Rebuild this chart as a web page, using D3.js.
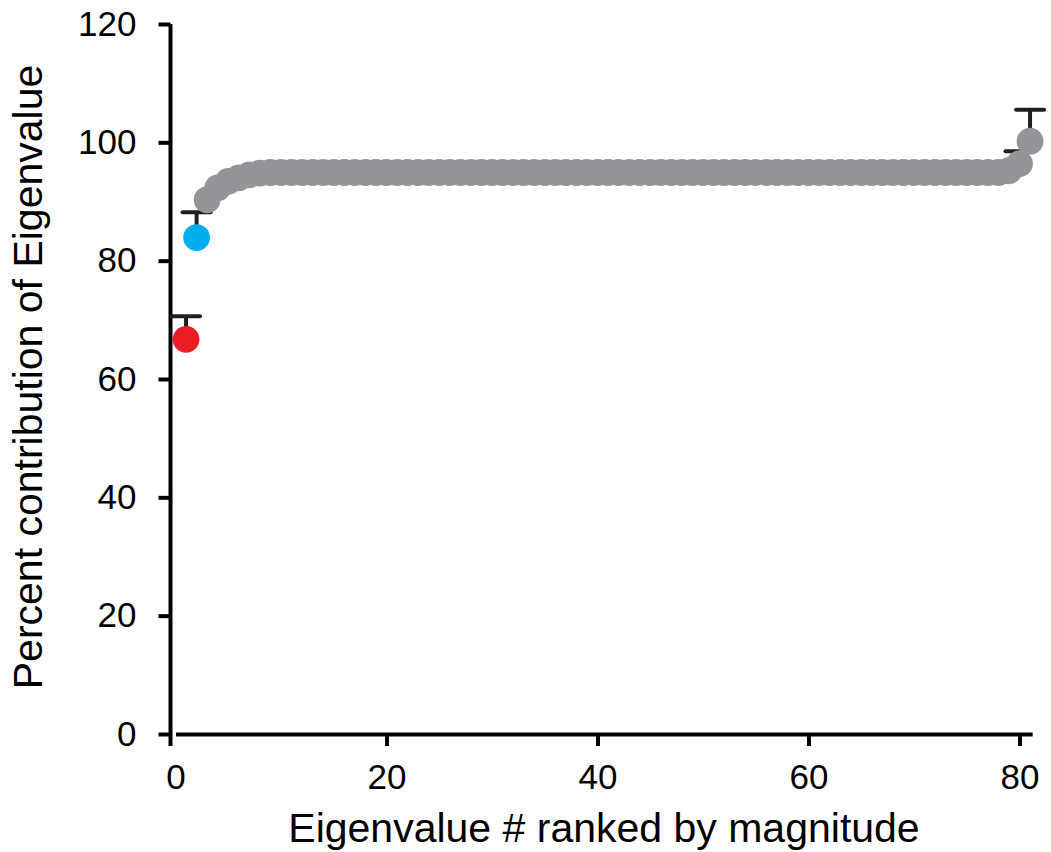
<!DOCTYPE html>
<html>
<head>
<meta charset="utf-8">
<script src="https://cdn.jsdelivr.net/npm/d3@7"></script>
<style>
  html, body { margin: 0; padding: 0; background: #ffffff; }
  svg { display: block; }
  text { font-family: "Liberation Sans", Arial, sans-serif; fill: #000; }
</style>
</head>
<body>
<svg id="chart" width="1051" height="852"></svg>
<script>
// Percent contribution of each eigenvalue, ranked 1..81
const values = [
  66.7, 83.9, 90.3, 92.3, 93.4, 94.0, 94.5, 94.8, 94.9, 94.9,
  94.9, 94.9, 94.9, 94.9, 94.9, 94.9, 94.9, 94.9, 94.9, 94.9,
  94.9, 94.9, 94.9, 94.9, 94.9, 94.9, 94.9, 94.9, 94.9, 94.9,
  94.9, 94.9, 94.9, 94.9, 94.9, 94.9, 94.9, 94.9, 94.9, 94.9,
  94.9, 94.9, 94.9, 94.9, 94.9, 94.9, 94.9, 94.9, 94.9, 94.9,
  94.9, 94.9, 94.9, 94.9, 94.9, 94.9, 94.9, 94.9, 94.9, 94.9,
  94.9, 94.9, 94.9, 94.9, 94.9, 94.9, 94.9, 94.9, 94.9, 94.9,
  94.9, 94.9, 94.9, 94.9, 94.9, 94.9, 94.9, 94.9, 95.2, 96.4,
  100.2
];
// Upper error (same units); 0 where the bar is hidden by the marker
const errors = [
  3.9, 4.3, 0, 0, 0, 0, 0, 0, 0, 0,
  0, 0, 0, 0, 0, 0, 0, 0, 0, 0,
  0, 0, 0, 0, 0, 0, 0, 0, 0, 0,
  0, 0, 0, 0, 0, 0, 0, 0, 0, 0,
  0, 0, 0, 0, 0, 0, 0, 0, 0, 0,
  0, 0, 0, 0, 0, 0, 0, 0, 0, 0,
  0, 0, 0, 0, 0, 0, 0, 0, 0, 0,
  0, 0, 0, 0, 0, 0, 0, 0, 0, 2.1,
  5.3
];
const xTicks = [0, 20, 40, 60, 80];
const yTicks = [0, 20, 40, 60, 80, 100, 120];
const xTitle = "Eigenvalue # ranked by magnitude";
const yTitle = "Percent contribution of Eigenvalue";

const RED = "#ed1c24", BLUE = "#00aeef", GRAY = "#939598", INK = "#231f20";

const points = values.map((v, i) => ({ rank: i + 1, value: v, err: errors[i] }));

const svg = d3.select("#chart");

const x = d3.scaleLinear().domain([0, 81.2]).range([175.5, 175.5 + 81.2 * 10.55]);
const y = d3.scaleLinear().domain([0, 120]).range([734, 24]);

const axisStroke = 4;

// x axis
const gx = svg.append("g").attr("transform", `translate(0,${y(0)})`)
  .call(d3.axisBottom(x).tickValues(xTicks).tickSize(12).tickSizeOuter(0).tickPadding(18));
gx.select(".domain").attr("stroke", "#000").attr("stroke-width", axisStroke);
gx.selectAll(".tick line").attr("stroke", "#000").attr("stroke-width", axisStroke)
  .filter(d => d === 0).remove();
gx.selectAll(".tick text").attr("font-size", 35).attr("font-family", "Liberation Sans, Arial, sans-serif").attr("fill", "#000");

// y axis, set slightly left of x = 0 and running down past the x axis
const yAxisX = 170.5;
const gy = svg.append("g").attr("transform", `translate(${yAxisX},0)`)
  .call(d3.axisLeft(y).tickValues(yTicks).tickSize(12).tickSizeOuter(0).tickPadding(22));
gy.select(".domain").attr("stroke", "#000").attr("stroke-width", axisStroke)
  .attr("d", `M0,${y(120)}V${y(0) + 12}`);
gy.selectAll(".tick line").attr("stroke", "#000").attr("stroke-width", axisStroke);
gy.selectAll(".tick text").attr("font-size", 35).attr("font-family", "Liberation Sans, Arial, sans-serif").attr("fill", "#000");

// error bars and markers, point by point so later markers overlap earlier caps
const capHalf = 14;
const colorFor = d => d.rank === 1 ? RED : d.rank === 2 ? BLUE : GRAY;
const pg = svg.append("g");
points.forEach(d => {
  const g = pg.append("g");
  const cx = x(d.rank), cy = y(d.value);
  if (d.err > 0) {
    const ty = y(d.value + d.err);
    g.append("line").attr("x1", cx).attr("x2", cx).attr("y1", cy).attr("y2", ty)
      .attr("stroke", INK).attr("stroke-width", 4);
    g.append("line").attr("x1", cx - capHalf).attr("x2", cx + capHalf).attr("y1", ty).attr("y2", ty)
      .attr("stroke", INK).attr("stroke-width", 4).attr("stroke-linecap", "round");
  }
  g.append("circle").attr("cx", cx).attr("cy", cy).attr("r", 13.4).attr("fill", colorFor(d));
});

// axis titles
svg.append("text").attr("x", 604).attr("y", 842).attr("text-anchor", "middle")
  .attr("font-size", 41).text(xTitle);
svg.append("text").attr("transform", "translate(42,377) rotate(-90)")
  .attr("text-anchor", "middle").attr("font-size", 41).text(yTitle);
</script>
</body>
</html>
